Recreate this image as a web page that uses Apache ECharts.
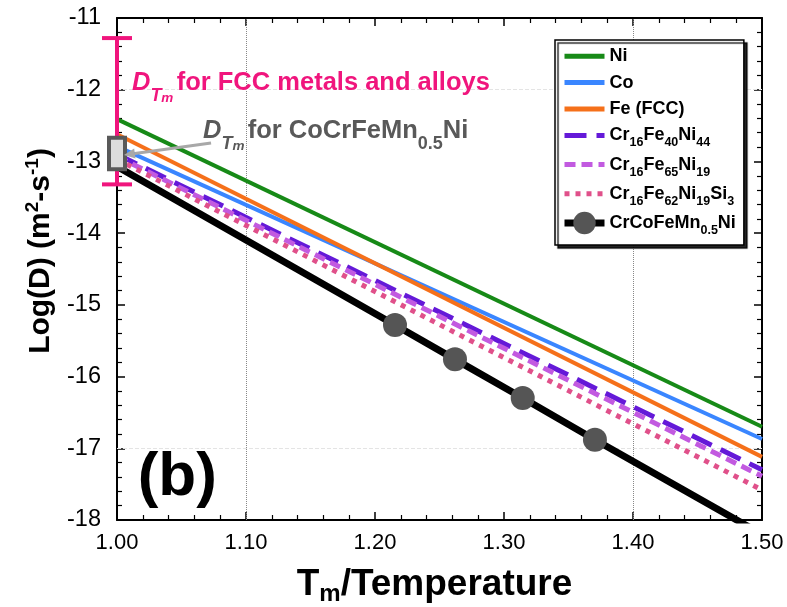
<!DOCTYPE html>
<html>
<head>
<meta charset="utf-8">
<script src="https://cdn.jsdelivr.net/npm/echarts/dist/echarts.min.js"></script>
<style>
  html, body { margin: 0; padding: 0; background: #fff; }
  #chart { width: 787px; height: 607px; }
</style>
</head>
<body>
<div id="chart"></div>
<script>
// values (Arrhenius lines are straight, so two ends each)
var xEnds = [1.0, 1.5];
var niY = [-12.41, -16.70];
var coY = [-12.79, -16.87];
var feY = [-12.62, -17.12];
var cr40Y = [-12.90, -17.30];
var cr65Y = [-12.93, -17.39];
var cr62Y = [-12.97, -17.58];
// CrCoFeMn0.5Ni: line ends plus the four measured points
var heaX = [1.0, 1.2155, 1.262, 1.3145, 1.3705, 1.5];
var heaY = [-13.07, -15.28, -15.76, -16.30, -16.88, -18.20];
var heaMarked = [false, true, true, true, true, false];

var seriesNames = ['Ni', 'Co', 'Fe (FCC)', 'Cr16Fe40Ni44', 'Cr16Fe65Ni19', 'Cr16Fe62Ni19Si3', 'CrCoFeMn0.5Ni'];

// D_Tm ranges at Tm (x = 1.00)
var fccRange = [-11.28, -13.32];
var heaRange = [-12.67, -13.11];

var FONT = '"Liberation Sans", Arial, sans-serif';

var myChart = echarts.init(document.getElementById('chart'));

function lineSeries(name, ys, color, width, dash) {
  return {
    name: name,
    type: 'line',
    data: xEnds.map(function (x, i) { return [x, ys[i]]; }),
    symbol: 'none',
    lineStyle: { color: color, width: width, type: dash || 'solid', cap: 'butt' },
    itemStyle: { color: color },
    z: 3
  };
}

var heaData = heaX.map(function (x, i) {
  var d = { value: [x, heaY[i]] };
  if (!heaMarked[i]) d.symbol = 'none';
  return d;
});

function dTmText(color) {
  return {
    d: { fontSize: 25.5, fontWeight: 'bold', fontStyle: 'italic', fontFamily: FONT, fill: color, lineHeight: 44 },
    t: { fontSize: 18, fontWeight: 'bold', fontStyle: 'italic', fontFamily: FONT, fill: color, lineHeight: 10, verticalAlign: 'bottom' },
    m: { fontSize: 13.5, fontWeight: 'bold', fontStyle: 'italic', fontFamily: FONT, fill: color, lineHeight: 4, verticalAlign: 'bottom' },
    n: { fontSize: 25.5, fontWeight: 'bold', fontFamily: FONT, fill: color, lineHeight: 44 },
    s: { fontSize: 18, fontWeight: 'bold', fontFamily: FONT, fill: color, lineHeight: 28, verticalAlign: 'bottom' }
  };
}

var annotation = {
  type: 'custom',
  name: 'annot',
  data: [[1.0, -12.0]],
  clip: false,
  silent: true,
  z: 10,
  renderItem: function (params, api) {
    var magenta = '#f0157d';
    var top = api.coord([1.0, fccRange[0]]);
    var bot = api.coord([1.0, fccRange[1]]);
    var bTop = api.coord([1.0, heaRange[0]]);
    var bBot = api.coord([1.0, heaRange[1]]);
    var aFrom = api.coord([1.0729, -12.743]);
    var aTo = api.coord([1.0054, -12.91]);
    var ang = Math.atan2(aTo[1] - aFrom[1], aTo[0] - aFrom[0]);
    var hl = 11, hw = 5;
    var bx = aTo[0] - hl * Math.cos(ang), by = aTo[1] - hl * Math.sin(ang);
    var head = [
      [aTo[0], aTo[1]],
      [bx + hw * Math.sin(ang), by - hw * Math.cos(ang)],
      [bx - hw * Math.sin(ang), by + hw * Math.cos(ang)]
    ];
    var fccPos = api.coord([1.0116, -11.91]);
    var heaPos = api.coord([1.0667, -12.58]);
    var bPos = api.coord([1.016, -17.42]);
    return {
      type: 'group',
      children: [
        { type: 'line', shape: { x1: top[0], y1: top[1], x2: bot[0], y2: bot[1] }, style: { stroke: magenta, lineWidth: 4 } },
        { type: 'line', shape: { x1: top[0] - 15, y1: top[1], x2: top[0] + 15, y2: top[1] }, style: { stroke: magenta, lineWidth: 4 } },
        { type: 'line', shape: { x1: bot[0] - 15, y1: bot[1], x2: bot[0] + 15, y2: bot[1] }, style: { stroke: magenta, lineWidth: 4 } },
        {
          type: 'rect',
          shape: { x: bTop[0] - 8, y: bTop[1], width: 16, height: bBot[1] - bTop[1] },
          style: { fill: '#dcdcdc', stroke: '#595959', lineWidth: 4 }
        },
        { type: 'line', shape: { x1: aFrom[0], y1: aFrom[1], x2: bx, y2: by }, style: { stroke: '#a8a8a8', lineWidth: 3 } },
        { type: 'polygon', shape: { points: head }, style: { fill: '#a8a8a8' } },
        {
          type: 'text', x: fccPos[0], y: fccPos[1],
          style: {
            text: '{d|D}{t|T}{m|m} {n|for FCC metals and alloys}',
            rich: dTmText(magenta), align: 'left', verticalAlign: 'middle'
          }
        },
        {
          type: 'text', x: heaPos[0], y: heaPos[1],
          style: {
            text: '{d|D}{t|T}{m|m} {n|for CoCrFeMn}{s|0.5}{n|Ni}',
            rich: dTmText('#595959'), align: 'left', verticalAlign: 'middle'
          }
        },
        {
          type: 'text', x: bPos[0], y: bPos[1],
          style: { text: '(b)', fill: '#000', fontSize: 62, fontWeight: 'bold', fontFamily: FONT, align: 'left', verticalAlign: 'middle' }
        }
      ]
    };
  }
};

var niSeries = lineSeries('Ni', niY, '#178a17', 4);
niSeries.markLine = {
  silent: true,
  symbol: 'none',
  label: { show: false },
  data: [
    { xAxis: 1.1, lineStyle: { color: '#888', width: 1, type: 'dotted' } },
    { xAxis: 1.4, lineStyle: { color: '#888', width: 1, type: 'dotted' } },
    { yAxis: -12, lineStyle: { color: '#e4e4e4', width: 1, type: 'dashed' } },
    { yAxis: -17, lineStyle: { color: '#e4e4e4', width: 1, type: 'dashed' } }
  ],
  z: 1
};

var tickCommon = {
  axisLine: { lineStyle: { color: '#000', width: 2 } },
  axisTick: { inside: true, length: 8, lineStyle: { color: '#000', width: 1.5 } },
  minorTick: { show: true, splitNumber: 5, length: 5, lineStyle: { color: '#000', width: 1.2 } },
  splitLine: { show: false },
  minorSplitLine: { show: false }
};

// legend entries: plain lines get no marker dot, the last one keeps its circle
var legendWidths = [5, 5, 5, 5, 5, 5, 7];
var hidden = { color: 'rgba(0,0,0,0)', borderColor: 'rgba(0,0,0,0)', borderWidth: 0, opacity: 0 };
var legendData = seriesNames.map(function (n, i) {
  var item = { name: n, lineStyle: { width: legendWidths[i] } };
  if (i < seriesNames.length - 1) item.itemStyle = hidden;
  return item;
});

var option = {
  animation: false,
  backgroundColor: '#fff',
  textStyle: { fontFamily: FONT },
  grid: { left: 117, right: 25, top: 18, bottom: 87, containLabel: false, outerBoundsMode: 'none' },
  legend: {
    data: legendData,
    orient: 'vertical',
    left: 555,
    top: 40,
    padding: [5, 8, 8, 6],
    itemWidth: 40,
    itemHeight: 28,
    itemGap: 4,
    backgroundColor: '#fff',
    borderColor: '#000',
    borderWidth: 1.5,
    borderRadius: 0,
    shadowColor: 'rgba(0,0,0,0.85)',
    shadowBlur: 1,
    shadowOffsetX: 3,
    shadowOffsetY: 3,
    formatter: function (name) {
      return '{n|' + name.replace(/(\d+(?:\.\d+)?)/g, '}{s|$1}{n|') + '}';
    },
    textStyle: {
      rich: {
        n: { fontSize: 18, fontWeight: 'bold', color: '#000', lineHeight: 28, fontFamily: FONT },
        s: { fontSize: 12.5, fontWeight: 'bold', color: '#000', lineHeight: 14, verticalAlign: 'bottom', fontFamily: FONT }
      }
    }
  },
  xAxis: [
    Object.assign({
      type: 'value', min: 1.0, max: 1.5, interval: 0.1, position: 'bottom',
      axisLabel: {
        fontSize: 22, color: '#000', margin: 12,
        formatter: function (v) { return v.toFixed(2); }
      },
      name: '{n|T}{s|m}{n|/Temperature}',
      nameLocation: 'middle',
      nameGap: 44,
      nameTextStyle: {
        padding: [0, 10, 0, 0],
        rich: {
          n: { fontSize: 37, fontWeight: 'bold', color: '#000', lineHeight: 42, fontFamily: FONT },
          s: { fontSize: 24, fontWeight: 'bold', color: '#000', lineHeight: 16, verticalAlign: 'bottom', fontFamily: FONT }
        }
      }
    }, tickCommon),
    Object.assign({
      type: 'value', min: 1.0, max: 1.5, interval: 0.1, position: 'top',
      axisLabel: { show: false }
    }, tickCommon)
  ],
  yAxis: [
    Object.assign({
      type: 'value', min: -18, max: -11, interval: 1, position: 'left',
      axisLabel: { fontSize: 23.5, color: '#000', margin: 16 },
      name: '{n|Log(D) (m}{p|2}{n|-s}{p|-1}{n|)}',
      nameLocation: 'middle',
      nameGap: 58,
      nameTextStyle: {
        padding: [0, 0, 0, 36],
        rich: {
          n: { fontSize: 30, fontWeight: 'bold', color: '#000', lineHeight: 36, fontFamily: FONT },
          p: { fontSize: 19, fontWeight: 'bold', color: '#000', lineHeight: 12, verticalAlign: 'top', fontFamily: FONT }
        }
      }
    }, tickCommon),
    Object.assign({
      type: 'value', min: -18, max: -11, interval: 1, position: 'right',
      axisLabel: { show: false }
    }, tickCommon)
  ],
  series: [
    niSeries,
    lineSeries('Co', coY, '#3a86ff', 4),
    lineSeries('Fe (FCC)', feY, '#f5701a', 4),
    lineSeries('Cr16Fe40Ni44', cr40Y, '#6419d8', 5, [22, 10]),
    lineSeries('Cr16Fe65Ni19', cr65Y, '#c25ae0', 5, [11, 6]),
    lineSeries('Cr16Fe62Ni19Si3', cr62Y, '#e0508a', 5, [5, 6]),
    {
      name: 'CrCoFeMn0.5Ni',
      type: 'line',
      data: heaData,
      symbol: 'circle',
      symbolSize: 24,
      showAllSymbol: true,
      lineStyle: { color: '#000', width: 7, cap: 'butt' },
      itemStyle: { color: '#555555', borderWidth: 0 },
      z: 4
    },
    annotation
  ]
};

myChart.setOption(option);
</script>
</body>
</html>
